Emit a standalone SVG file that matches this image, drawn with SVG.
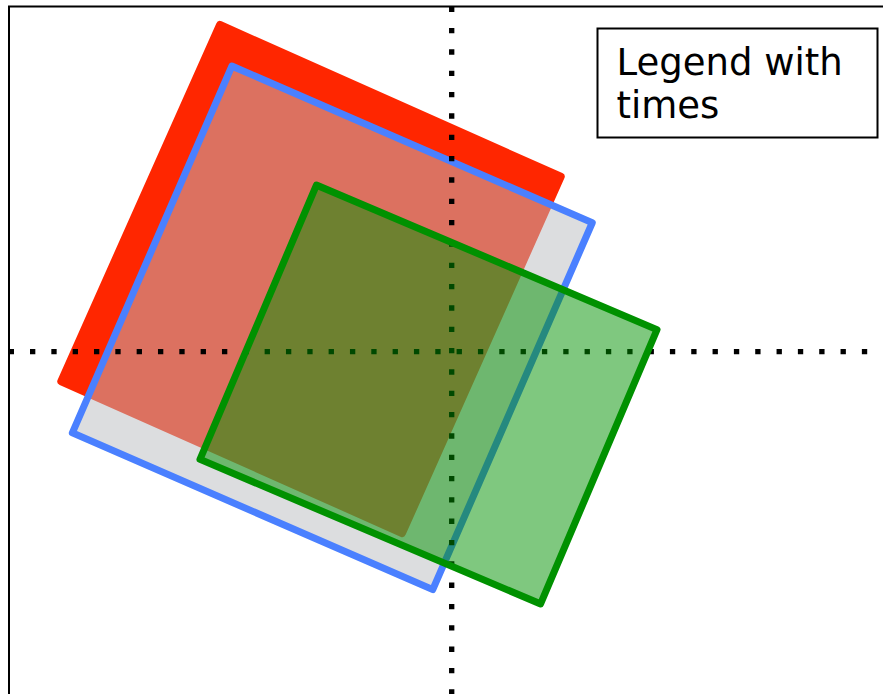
<svg xmlns="http://www.w3.org/2000/svg" width="883" height="694" viewBox="0 0 883 694">
  <style>
    .frame { fill: none; stroke: #000; stroke-width: 2; }
    .axis { fill: none; stroke: #000; stroke-width: 5.33; stroke-dasharray: 5.33 16; }
    .legend-box { fill: #fff; stroke: #000; stroke-width: 2; }
    .legend-text { font-family: "DejaVu Sans", Verdana, sans-serif; font-size: 37px; fill: #000; }
  </style>
  <rect width="883" height="694" fill="#fff"/>
  <!-- plot frame (right and bottom edges run off the page) -->
  <rect class="frame" x="9" y="6.5" width="900" height="720"/>

  <!-- solid red square -->
  <g id="red-square">
    <rect x="-190.5" y="-199" width="381" height="398" rx="4" fill="#ff2600" transform="translate(311 279) rotate(24)"/>
  </g>

  <!-- translucent grey square with blue outline -->
  <g id="blue-square">
    <rect x="-196.5" y="-200" width="393" height="400" fill="#b9bbbf" fill-opacity="0.5" stroke="#4a80ff" stroke-width="7" stroke-linejoin="round" transform="translate(332.3 327.8) rotate(23.5)"/>
  </g>

  <!-- dotted axes crossing at the origin -->
  <g id="axes">
    <line class="axis" x1="8.67" y1="351.7" x2="883" y2="351.7"/>
    <line class="axis" x1="451.7" y1="6.7" x2="451.7" y2="694"/>
  </g>

  <!-- translucent green rectangle -->
  <g id="green-rect">
    <rect x="-185" y="-149" width="370" height="298" fill="#009100" fill-opacity="0.5" stroke="#009100" stroke-width="7" stroke-linejoin="round" transform="translate(428.5 394.5) rotate(23)"/>
  </g>

  <!-- legend -->
  <g id="legend">
    <rect class="legend-box" x="597.5" y="28.5" width="280" height="109"/>
    <text class="legend-text" x="616.5" y="74.5">Legend with</text>
    <text class="legend-text" x="616.5" y="117.7">times</text>
  </g>
</svg>
